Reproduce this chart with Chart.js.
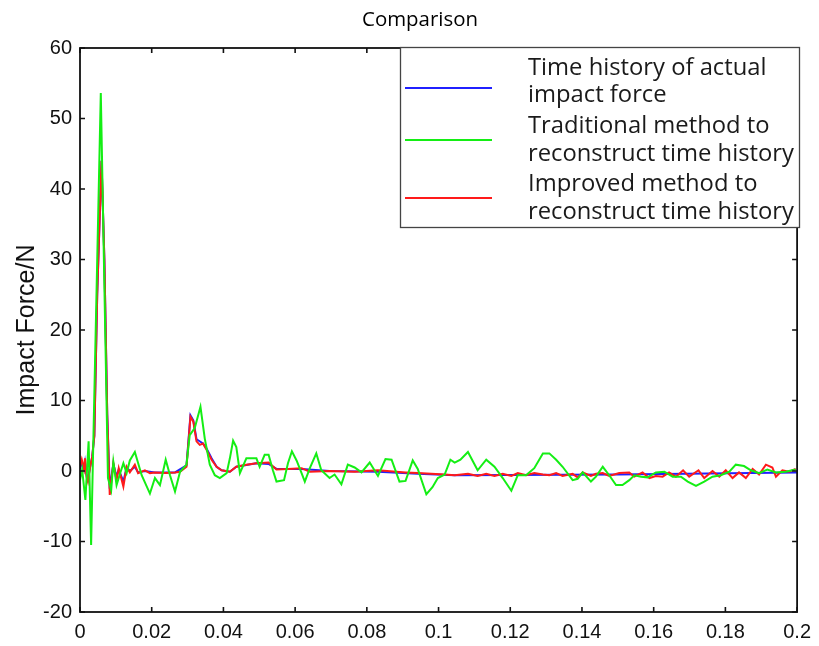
<!DOCTYPE html>
<html>
<head>
<meta charset="utf-8">
<script src="https://cdn.jsdelivr.net/npm/chart.js@4/dist/chart.umd.min.js"></script>
<style>
html,body{margin:0;padding:0;background:#fff;}
#c{display:block;}
</style>
</head>
<body>
<canvas id="c" width="819" height="646"></canvas>
<script>
// ---- data (time in s, force in N) ----
const tActual = [0,0.0005,0.0011,0.0014,0.0018,0.0022,0.0028,0.0034,0.0040,0.0048,0.0060,0.0068,0.0076,0.0083,0.0093,0.0102,0.0108,0.0121,0.0130,0.0139,0.0153,0.0162,0.0181,0.0209,0.0265,0.0297,0.0302,0.0308,0.0316,0.0325,0.0343,0.0353,0.0367,0.0381,0.0395,0.0418,0.0436,0.0492,0.0526,0.0548,0.0618,0.0696,0.0831,0.0942,0.1045,0.1500,0.2000];
const fActual = [0.3,1.2,0.2,1.2,-0.5,-1.2,0.5,2,5,25,44,30,8,-2.5,1.0,-0.8,0.2,-1.5,0.5,0,0.6,-0.2,0,-0.2,-0.2,0.8,4,7.9,7.2,4.5,3.9,3.2,1.8,0.6,0.1,-0.1,0.6,1.1,1.0,0.3,0.3,0.0,-0.1,-0.4,-0.6,-0.5,-0.2];

const tTraditional = [0,0.0006,0.0015,0.0024,0.0031,0.0058,0.0078,0.0087,0.0093,0.0102,0.0111,0.0121,0.0130,0.0139,0.0153,0.0172,0.0195,0.0209,0.0223,0.0239,0.0251,0.0265,0.0279,0.0297,0.0306,0.0320,0.0336,0.0348,0.0362,0.0376,0.0390,0.0409,0.0418,0.0427,0.0436,0.0446,0.0464,0.0476,0.0492,0.0501,0.0515,0.0526,0.0538,0.0548,0.0569,0.0580,0.0591,0.0604,0.0618,0.0627,0.0641,0.0659,0.0673,0.0696,0.0710,0.0729,0.0747,0.0766,0.0785,0.0808,0.0831,0.0852,0.0869,0.0891,0.0908,0.0928,0.0942,0.0966,0.0983,0.0998,0.1017,0.1033,0.1045,0.1061,0.1082,0.1109,0.1133,0.1156,0.1179,0.1203,0.1221,0.1244,0.1267,0.1291,0.1309,0.1328,0.1346,0.1374,0.1388,0.1402,0.1425,0.1439,0.1458,0.1476,0.1495,0.1513,0.1532,0.1546,0.1565,0.1583,0.1606,0.1630,0.1653,0.1676,0.1695,0.1718,0.1741,0.1764,0.1787,0.1811,0.1829,0.1852,0.1871,0.1894,0.1917,0.1941,0.1968,0.1996];
const fTraditional = [-1.3,0.2,-4.1,4.2,-10.5,53.6,-1.0,-2.7,1.3,-2.0,-0.5,1.1,-0.3,1.5,2.7,-0.6,-3.2,-1.0,-2.0,1.6,-0.6,-2.9,-0.1,0.9,5.1,6.1,9.1,4.6,0.9,-0.6,-1.0,-0.3,1.8,4.3,3.4,-0.3,1.8,1.8,1.8,0.6,2.3,2.3,0.1,-1.5,-1.3,1.1,2.8,1.5,-0.3,-1.5,0.4,2.5,0.1,-1.0,-0.5,-1.9,0.9,0.5,-0.2,1.2,-0.7,1.7,1.6,-1.5,-1.4,1.5,0.3,-3.3,-2.3,-1.0,-0.5,1.6,1.2,1.6,2.7,0.1,1.6,0.6,-1.0,-2.8,-0.6,-0.6,0.4,2.5,2.5,1.6,0.6,-1.3,-1.1,-0.2,-1.5,-0.8,0.6,-0.6,-2.0,-2.0,-1.3,-0.6,-0.8,-0.9,-0.2,-0.1,-0.8,-0.8,-1.5,-2.1,-1.5,-0.8,-0.6,-0.1,0.9,0.7,0.1,-0.3,0.2,-0.2,-0.1,0.2];

const tImproved = [0,0.0005,0.0011,0.0014,0.0018,0.0022,0.0028,0.0034,0.0040,0.0048,0.0060,0.0068,0.0076,0.0083,0.0093,0.0102,0.0108,0.0121,0.0130,0.0139,0.0153,0.0162,0.0181,0.0195,0.0209,0.0239,0.0265,0.0279,0.0297,0.0302,0.0308,0.0316,0.0325,0.0334,0.0343,0.0353,0.0367,0.0381,0.0395,0.0418,0.0436,0.0464,0.0492,0.0526,0.0548,0.0580,0.0618,0.0641,0.0696,0.0766,0.0831,0.0908,0.0942,0.1017,0.1045,0.1082,0.1109,0.1133,0.1156,0.1179,0.1203,0.1221,0.1244,0.1267,0.1291,0.1309,0.1328,0.1346,0.1374,0.1388,0.1402,0.1425,0.1439,0.1458,0.1476,0.1504,0.1532,0.1546,0.1569,0.1588,0.1606,0.1625,0.1643,0.1662,0.1682,0.1699,0.1725,0.1741,0.1764,0.1783,0.1801,0.1820,0.1838,0.1857,0.1876,0.1894,0.1913,0.1931,0.1941,0.1959,0.1978,0.1996];
const fImproved = [0.5,1.6,0.3,1.8,-0.8,-1.5,0.5,2,5,25,44,30,8,-3.4,1.1,-1.3,0.4,-2.2,0.6,-0.2,0.9,-0.3,0.1,-0.3,-0.2,-0.3,-0.2,-0.1,0.6,3.7,7.7,7.0,4.2,3.7,3.9,3.0,1.6,0.6,0.1,-0.1,0.6,0.9,1.1,1.2,0.2,0.3,0.4,-0.1,0.0,-0.1,0.1,-0.2,-0.3,-0.5,-0.6,-0.4,-0.7,-0.4,-0.7,-0.4,-0.7,-0.3,-0.6,-0.3,-0.5,-0.6,-0.3,-0.7,-0.4,-0.9,-0.2,-0.7,-0.4,-0.3,-0.7,-0.3,-0.2,-0.8,-0.2,-1.0,-0.7,-0.8,-0.2,-0.8,0.1,-0.8,0.1,-1.0,0.0,-0.8,0.1,-1.0,-0.2,-1.0,0.3,-0.5,0.9,0.5,-0.8,0.1,-0.1,0.3];

const xTickLabels = ['0','0.02','0.04','0.06','0.08','0.1','0.12','0.14','0.16','0.18','0.2'];
const yTickLabels = ['-20','-10','0','10','20','30','40','50','60'];
const seriesNames = [['Time history of actual','impact force'],['Traditional method to','reconstruct time history'],['Improved method to','reconstruct time history']];
const chartTitle = 'Comparison';
const yTitle = 'Impact Force/N';

const colors = ['#2020ff','#14ee14','#ff1a1a'];
const pts = (t,f) => t.map((v,i)=>({x:v,y:f[i]}));

const framePlugin = {
  id:'frame',
  afterDraw(chart){
    const ctx = chart.ctx, a = chart.chartArea;
    const xs = chart.scales.x, ys = chart.scales.y;
    ctx.save();
    // box
    ctx.strokeStyle = '#111'; ctx.lineWidth = 1.8;
    ctx.strokeRect(a.left, a.top, a.right-a.left, a.bottom-a.top);
    // inward ticks
    ctx.lineWidth = 1.6;
    const L = 5;
    xs.ticks.forEach(tk=>{
      const p = xs.getPixelForValue(tk.value);
      ctx.beginPath(); ctx.moveTo(p,a.bottom); ctx.lineTo(p,a.bottom-L);
      ctx.moveTo(p,a.top); ctx.lineTo(p,a.top+L); ctx.stroke();
    });
    ys.ticks.forEach(tk=>{
      const p = ys.getPixelForValue(tk.value);
      ctx.beginPath(); ctx.moveTo(a.left,p); ctx.lineTo(a.left+L,p);
      ctx.moveTo(a.right,p); ctx.lineTo(a.right-L,p); ctx.stroke();
    });
    // title
    ctx.fillStyle = '#000';
    ctx.textAlign = 'center'; ctx.textBaseline = 'middle';
    ctx.font = '19px "Open Sans"';
    let w = ctx.measureText(chartTitle).width;
    ctx.font = (19*116/w).toFixed(2) + 'px "Open Sans"';
    ctx.fillText(chartTitle, 420, 20);
    // legend
    const bx = 400.5, by = 47.5, bw = 399, bh = 180;
    ctx.fillStyle = '#fff';
    ctx.fillRect(bx,by,bw,bh);
    ctx.strokeStyle = '#444'; ctx.lineWidth = 1.3;
    ctx.strokeRect(bx,by,bw,bh);
    ctx.font = '20px "Open Sans"';
    w = ctx.measureText('reconstruct time history').width;
    const fs = 20*266/w;
    ctx.font = fs.toFixed(2)+'px "Open Sans"';
    ctx.textAlign = 'left';
    ctx.fillStyle = '#1a1a1a';
    const lineY = [88, 140, 198];
    const textY = [[68,95],[126,154],[184,212]];
    seriesNames.forEach((nm,i)=>{
      ctx.strokeStyle = colors[i]; ctx.lineWidth = 2;
      ctx.beginPath(); ctx.moveTo(405,lineY[i]); ctx.lineTo(492,lineY[i]); ctx.stroke();
      ctx.fillText(nm[0], 528, textY[i][0]);
      ctx.fillText(nm[1], 528, textY[i][1]);
    });
    ctx.restore();
  }
};

new Chart(document.getElementById('c'), {
  type:'line',
  data:{
    datasets:[
      {label:seriesNames[0].join(' '), data:pts(tActual,fActual), borderColor:colors[0], borderWidth:2, pointRadius:0, tension:0, fill:false, order:3},
      {label:seriesNames[1].join(' '), data:pts(tTraditional,fTraditional), borderColor:colors[1], borderWidth:2, pointRadius:0, tension:0, fill:false, order:1},
      {label:seriesNames[2].join(' '), data:pts(tImproved,fImproved), borderColor:colors[2], borderWidth:2, pointRadius:0, tension:0, fill:false, order:2}
    ]
  },
  options:{
    responsive:false, animation:false, devicePixelRatio:1,
    layout:{padding:{top:48,right:21,left:0,bottom:0}},
    plugins:{legend:{display:false}, title:{display:false}, tooltip:{enabled:false}},
    scales:{
      x:{type:'linear', min:0, max:0.2,
        afterFit(s){ s.height = 34; },
        afterBuildTicks(s){ s.ticks = xTickLabels.map(v=>({value:parseFloat(v)})); },
        grid:{display:false, drawTicks:false}, border:{display:false},
        ticks:{padding:8, maxRotation:0, autoSkip:false, color:'#111', font:{family:'"Liberation Sans", Arial', size:20},
          callback:(v,i)=>xTickLabels[i]}
      },
      y:{type:'linear', min:-20, max:60,
        afterFit(s){ s.width = 80; },
        afterBuildTicks(s){ s.ticks = yTickLabels.map(v=>({value:parseFloat(v)})); },
        grid:{display:false, drawTicks:false}, border:{display:false},
        ticks:{padding:8, autoSkip:false, color:'#111', font:{family:'"Liberation Sans", Arial', size:20},
          callback:(v,i)=>yTickLabels[i]},
        title:{display:true, text:yTitle, color:'#111', font:{family:'"Liberation Sans", Arial', size:25}, padding:{top:12,bottom:0}}
      }
    }
  },
  plugins:[framePlugin]
});
</script>
</body>
</html>
